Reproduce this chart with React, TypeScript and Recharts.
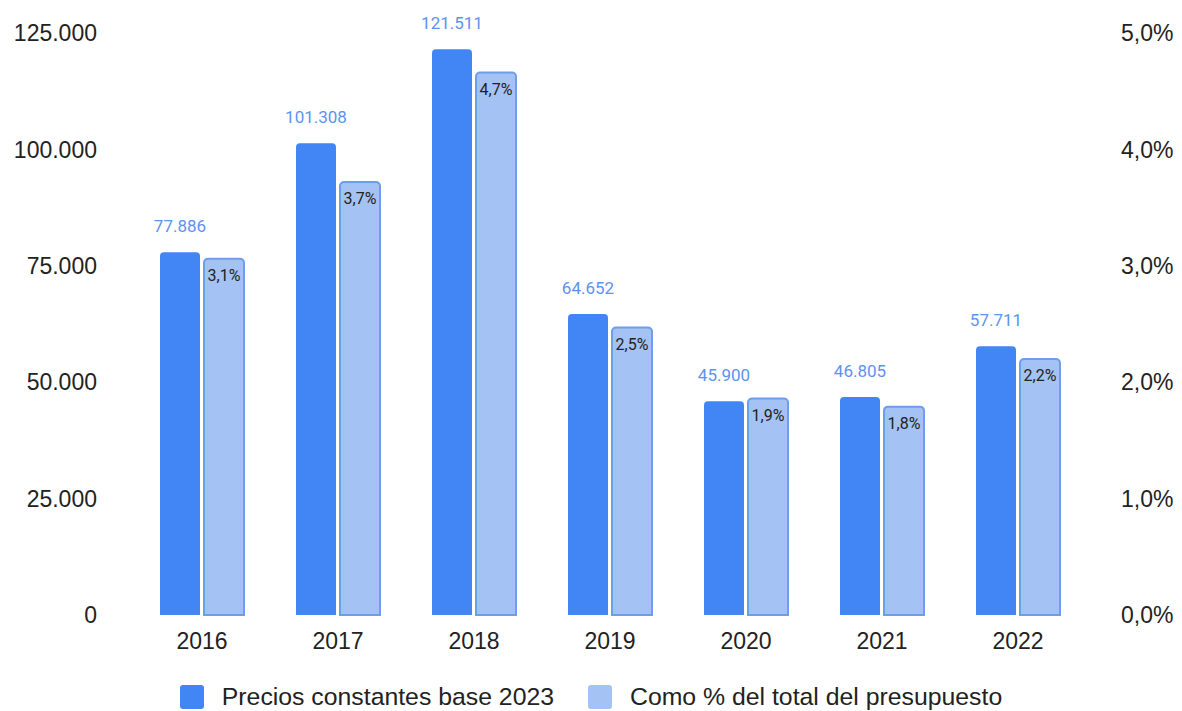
import React from 'react';
import {
  BarChart,
  Bar,
  XAxis,
  YAxis,
  Legend,
  LabelList,
} from 'recharts';

// --- DATA ---
const years = ['2016', '2017', '2018', '2019', '2020', '2021', '2022'];
const preciosConstantes = [77886, 101308, 121511, 64652, 45900, 46805, 57711];
const porcentajePresupuesto = [3.06, 3.72, 4.66, 2.47, 1.86, 1.79, 2.2];
const leftTicks = [0, 25000, 50000, 75000, 100000, 125000];
const rightTicks = [0, 1, 2, 3, 4, 5];

const DARK = '#4285f4';
const LIGHT = '#a4c2f4';
const LIGHT_STROKE = '#6d9eeb';

const chartData = years.map((year, i) => ({
  year,
  precios: preciosConstantes[i],
  pct: porcentajePresupuesto[i],
}));

// 125000 -> "125.000"
const formatThousands = (val: number) =>
  Math.round(val).toString().replace(/\B(?=(\d{3})+(?!\d))/g, '.');

const formatPct = (val: number) => `${val.toFixed(1).replace('.', ',')}%`;

const tickStyle = { fill: '#222222', fontSize: 23, fontFamily: '"Liberation Sans", Arial, sans-serif' };

const LegendContent = () => (
  <div
    style={{
      display: 'flex',
      justifyContent: 'center',
      alignItems: 'center',
      gap: 34,
      fontFamily: '"Liberation Sans", Arial, sans-serif',
      fontSize: 24.8,
      color: '#222222',
      height: 46,
      paddingTop: 18,
      boxSizing: 'border-box',
    }}
  >
    {[
      { label: 'Precios constantes base 2023', color: DARK },
      { label: 'Como % del total del presupuesto', color: LIGHT },
    ].map((item) => (
      <div key={item.label} style={{ display: 'flex', alignItems: 'center', gap: 18 }}>
        <div style={{ width: 24, height: 24, borderRadius: 3, backgroundColor: item.color }} />
        <span>{item.label}</span>
      </div>
    ))}
  </div>
);

const App: React.FC = () => {
  return (
    <div style={{ position: 'absolute', left: 0, top: 0, width: 1182, height: 711, background: '#ffffff' }}>
      <BarChart
        width={1182}
        height={711}
        data={chartData}
        margin={{ top: 33, right: 0, left: 0, bottom: 0 }}
        barSize={40}
        barGap={4}
      >
        <XAxis
          dataKey="year"
          axisLine={false}
          tickLine={false}
          tick={tickStyle}
          tickMargin={12}
          height={50}
        />
        <YAxis
          yAxisId="left"
          orientation="left"
          domain={[0, 125000]}
          ticks={leftTicks}
          tickFormatter={formatThousands}
          axisLine={false}
          tickLine={false}
          tick={tickStyle}
          tickMargin={31}
          width={134}
        />
        <YAxis
          yAxisId="right"
          orientation="right"
          domain={[0, 5]}
          ticks={rightTicks}
          tickFormatter={formatPct}
          axisLine={false}
          tickLine={false}
          tick={{ ...tickStyle, textAnchor: 'start' }}
          tickMargin={29}
          width={96}
        />
        <Legend verticalAlign="bottom" height={46} content={<LegendContent />} />
        <Bar yAxisId="left" dataKey="precios" fill={DARK} radius={[4, 4, 0, 0]} isAnimationActive={false}>
          <LabelList
            dataKey="precios"
            position="top"
            offset={20}
            formatter={(v: any) => formatThousands(Number(v))}
            style={{ fill: '#5b93f0', fontSize: 17, fontFamily: 'Roboto, sans-serif' }}
          />
        </Bar>
        <Bar
          yAxisId="right"
          dataKey="pct"
          fill={LIGHT}
          stroke={LIGHT_STROKE}
          strokeWidth={2}
          radius={[4, 4, 0, 0]}
          isAnimationActive={false}
        >
          <LabelList
            dataKey="pct"
            position="insideTop"
            offset={11}
            formatter={(v: any) => formatPct(Number(v))}
            style={{ fill: '#222222', fontSize: 16, fontFamily: 'Roboto, sans-serif' }}
          />
        </Bar>
      </BarChart>
    </div>
  );
};

export default App;
